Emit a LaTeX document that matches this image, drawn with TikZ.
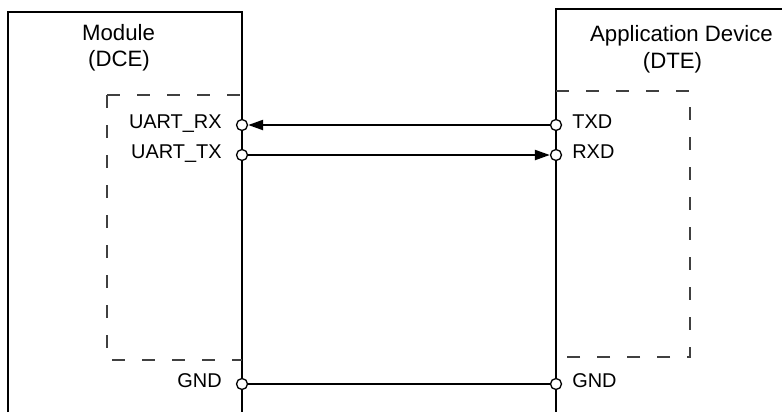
\documentclass[tikz,border=0pt]{standalone}
\usepackage{fontspec}
\setmainfont{Liberation Sans}
\usetikzlibrary{positioning,arrows.meta}

\begin{document}
\begin{tikzpicture}[x=1bp,y=-1bp]
    \tikzset{
        pin/.style={circle, draw, fill=white, inner sep=0pt, minimum size=11bp, line width=1.3bp},
        pinlabel/.style={font=\fontsize{20}{24}\selectfont, inner sep=0pt, text height=1.45ex, text depth=0.3ex},
        title/.style={font=\fontsize{22.3}{26}\selectfont, inner sep=0pt, anchor=base},
        boxline/.style={line width=1.4bp},
        dashbox/.style={line width=1.4bp, draw=black!75, dash pattern=on 13bp off 17bp},
        wire/.style={line width=2.2bp},
        sig/.style={wire, -{Triangle[length=15bp,width=10bp]}},
    }
    \useasboundingbox (0,0) rectangle (782,412);

    % Boxes
    \draw[boxline] (8,412) -- (8,12) -- (242,12) -- (242,412);
    \draw[boxline] (782,9) -- (556,9) -- (556,412);
    \draw[dashbox] (107,95) -- (242,95);
    \draw[dashbox] (107,95) -- (107,360) -- (242,360);
    \draw[dashbox] (556,91) -- (690,91) -- (690,357) -- (556,357);

    % Titles
    \node[title] (dce1) at (118.5,40) {Module};
    \node[title] (dce2) at (119,66) {(DCE)};
    \node[title] (dte1) at (681.5,41) {Application Device};
    \node[title] (dte2) at (672.5,68) {(DTE)};

    % Pins
    \node[pin] (uartrx) at (242,125) {};
    \node[pin] (uarttx) at (242,155) {};
    \node[pin] (gndl) at (242,384) {};
    \node[pin] (txd) at (556,125) {};
    \node[pin] (rxd) at (556,155) {};
    \node[pin] (gndr) at (556,384) {};

    % Pin labels
    \node[pinlabel, left=14bp of uartrx] (uartrxl) {UART\_RX};
    \node[pinlabel, left=14bp of uarttx] (uarttxl) {UART\_TX};
    \node[pinlabel, left=14bp of gndl] (gndll) {GND};
    \node[pinlabel, right=10bp of txd] (txdl) {TXD};
    \node[pinlabel, right=10bp of rxd] (rxdl) {RXD};
    \node[pinlabel, right=10bp of gndr] (gndrl) {GND};

    % Signals
    \draw[sig] (txd) -- (uartrx);
    \draw[sig] (uarttx) -- (rxd);
    \draw[wire] (gndl) -- (gndr);
\end{tikzpicture}
\end{document}
